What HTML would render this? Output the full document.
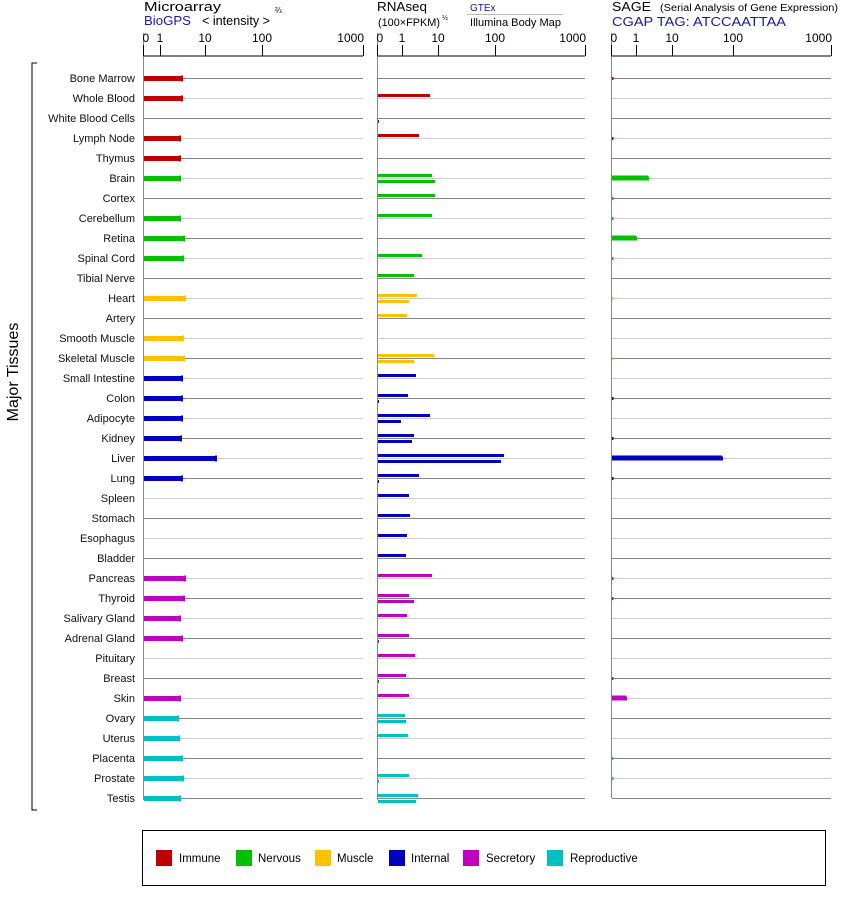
<!DOCTYPE html>
<html><head><meta charset="utf-8"><style>
html,body{margin:0;padding:0;background:#fff;}
svg{display:block;font-family:"Liberation Sans",sans-serif;}
</style></head><body>
<svg width="842" height="900" viewBox="0 0 842 900" xmlns="http://www.w3.org/2000/svg">
<!-- headers -->
<text x="144" y="11" font-size="13" textLength="77" lengthAdjust="spacingAndGlyphs">Microarray</text>
<text x="144" y="25" font-size="13" fill="#1a1aa0" textLength="47" lengthAdjust="spacingAndGlyphs">BioGPS</text>
<text x="202" y="25" font-size="13" textLength="68" lengthAdjust="spacingAndGlyphs">&lt; intensity &gt;</text>
<text x="275" y="13" font-size="8">⅔</text>
<text x="377" y="11" font-size="13" textLength="50" lengthAdjust="spacingAndGlyphs">RNAseq</text>
<text x="378" y="26" font-size="11" textLength="62" lengthAdjust="spacingAndGlyphs">(100×FPKM)</text>
<text x="442" y="20" font-size="7">½</text>
<text x="470" y="11" font-size="10" fill="#1a1aa0">GTEx</text>
<line x1="467" y1="14.5" x2="563" y2="14.5" stroke="#bbb"/>
<text x="470" y="26" font-size="11" textLength="91" lengthAdjust="spacingAndGlyphs">Illumina Body Map</text>
<text x="612" y="11" font-size="13" textLength="39" lengthAdjust="spacingAndGlyphs">SAGE</text>
<text x="660" y="11" font-size="10" textLength="178" lengthAdjust="spacingAndGlyphs">(Serial Analysis of Gene Expression)</text>
<text x="612" y="26" font-size="13" fill="#1a1aa0" textLength="174" lengthAdjust="spacingAndGlyphs">CGAP TAG: ATCCAATTAA</text>
<text x="18" y="372" font-size="16" transform="rotate(-90 18 372)" text-anchor="middle">Major Tissues</text>
<path d="M37 63 H32 V810 H37" fill="none" stroke="#000"/>
<rect x="142.5" y="830.5" width="683" height="55" fill="none" stroke="#000"/>
<g font-size="11.5">
<rect x="156" y="850" width="16" height="16" fill="#c00000"/><text x="179" y="862">Immune</text>
<rect x="236" y="850" width="16" height="16" fill="#00c000"/><text x="258" y="862">Nervous</text>
<rect x="315" y="850" width="16" height="16" fill="#ffc000"/><text x="337" y="862">Muscle</text>
<rect x="389" y="850" width="16" height="16" fill="#0000c0"/><text x="411" y="862">Internal</text>
<rect x="463" y="850" width="16" height="16" fill="#c000c0"/><text x="486" y="862">Secretory</text>
<rect x="547" y="850" width="16" height="16" fill="#00c0c0"/><text x="570" y="862">Reproductive</text>
</g>
</svg>
<script>
const NS="http://www.w3.org/2000/svg";
const svg=document.querySelector('svg');
function el(t,a,txt){const e=document.createElementNS(NS,t);for(const k in a)e.setAttribute(k,a[k]);if(txt!==undefined)e.textContent=txt;svg.appendChild(e);return e;}
const C={I:'#c00000',N:'#00c000',M:'#ffc000',T:'#0000c0',S:'#c000c0',R:'#00c0c0'};
const rows=[
["Bone Marrow","I",183,0,0,1],["Whole Blood","I",183,430,0,0],["White Blood Cells","I",0,0,379,0],
["Lymph Node","I",181,419,0,1],["Thymus","I",181,0,0,0],["Brain","N",181,432,435,648],
["Cortex","N",0,435,0,1],["Cerebellum","N",181,432,0,1],["Retina","N",185,0,0,636],
["Spinal Cord","N",184,422,0,1],["Tibial Nerve","N",0,414,0,0],["Heart","M",186,417,409,1],
["Artery","M",0,407,0,0],["Smooth Muscle","M",184,0,0,0],["Skeletal Muscle","M",185,434,414,1],
["Small Intestine","T",183,416,0,0],["Colon","T",183,408,379,1],["Adipocyte","T",183,430,401,0],
["Kidney","T",182,414,412,1],["Liver","T",217,504,501,722],["Lung","T",183,419,379,1],
["Spleen","T",0,409,0,0],["Stomach","T",0,410,0,0],["Esophagus","T",0,407,0,0],["Bladder","T",0,406,0,0],
["Pancreas","S",186,432,0,1],["Thyroid","S",185,409,414,1],["Salivary Gland","S",181,407,0,0],
["Adrenal Gland","S",183,409,379,0],["Pituitary","S",0,415,0,0],["Breast","S",0,406,379,1],
["Skin","S",181,409,0,626],["Ovary","R",179,405,406,0],["Uterus","R",180,408,0,0],
["Placenta","R",183,0,0,1],["Prostate","R",184,409,379,1],["Testis","R",181,418,416,0]];
const panels=[[144,363],[378,585],[612,831]];
rows.forEach((r,i)=>{
 const y=78+20*i, col=i%2==0?'#888':'#ccc';
 panels.forEach(p=>el('line',{x1:p[0],x2:p[1],y1:y+.5,y2:y+.5,stroke:col}));
 el('text',{x:135,y:y+4,'font-size':11,'text-anchor':'end',fill:'#111'},r[0]);
 const c=C[r[1]];
 if(r[2]){el('rect',{x:144,y:y-2,width:r[2]-144-1,height:5,fill:c});el('rect',{x:r[2]-2,y:y-2.5,width:2,height:6,fill:c});}
 if(r[3])el('rect',{x:378,y:y-4,width:r[3]-378,height:3,fill:c});
 if(r[4])el('rect',{x:378,y:y+2,width:r[4]-378,height:3,fill:c});
 if(r[5]){const w=r[5]===1?1.5:r[5]-612;el('rect',{x:612,y:r[5]===1?y-1:y-2.5,width:w,height:r[5]===1?3:5,fill:c});if(r[5]>1)el('rect',{x:r[5]-1,y:y-1.5,width:2,height:4,fill:c});}
});
const axes=[[143.5,[[144,'0'],[160,'1'],[205,'10'],[262,'100'],[363,'1000']],800,363],
[377.5,[[377,'0'],[402,'1'],[438,'10'],[495,'100'],[585,'1000']],800,585],
[611.5,[[611,'0'],[636,'1'],[672,'10'],[733,'100'],[831,'1000']],798,831]];
axes.forEach(a=>{
 el('line',{x1:a[0],x2:a[0],y1:33,y2:a[2],stroke:'#888'});
 el('line',{x1:a[0],x2:a[3],y1:56,y2:56,stroke:'#000'});
 a[1].forEach((t,j)=>{const x=j==0?a[0]:t[0]+.5;
  el('line',{x1:x,x2:x,y1:45,y2:56,stroke:'#000'});
  let anchor=j==0?'start':(j==4?'end':'middle');
  el('text',{x:j==0?a[0]-1:(j==4?t[0]+1:t[0]),y:42,'font-size':12,'text-anchor':anchor},t[1]);
 });
});
</script>
</body></html>
